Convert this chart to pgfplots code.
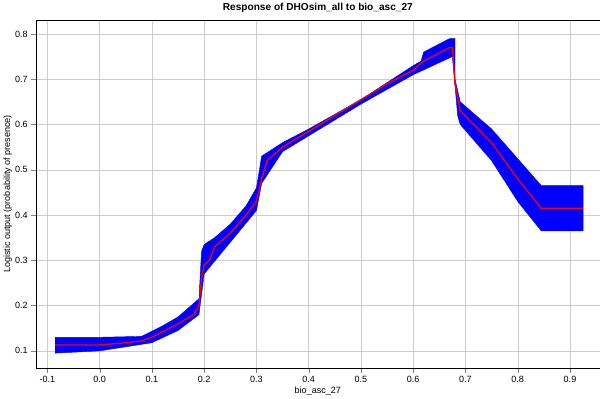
\documentclass[border=0pt]{standalone}
\usepackage{pgfplots}
\pgfplotsset{compat=1.18}
\usepackage{fontspec}
\setmainfont{Liberation Sans}
\begin{document}
\begin{tikzpicture}
\begin{axis}[
  scale only axis, width=528bp, height=326bp,
  xmin=-0.122, xmax=0.957, ymin=0.062, ymax=0.831,
  xtick={-0.1,0,0.1,0.2,0.3,0.4,0.5,0.6,0.7,0.8,0.9},
  xticklabels={-0.1,0.0,0.1,0.2,0.3,0.4,0.5,0.6,0.7,0.8,0.9},
  ytick={0.1,0.2,0.3,0.4,0.5,0.6,0.7,0.8},
  yticklabels={0.1,0.2,0.3,0.4,0.5,0.6,0.7,0.8},
  grid=major, grid style={gray!40},
  tick label style={font=\fontsize{8.5}{10}\selectfont},
  label style={font=\fontsize{8.5}{10}\selectfont},
  title style={font=\fontsize{9.5}{11}\selectfont\bfseries, yshift=-3pt},
  ylabel style={yshift=-4pt},
  xlabel style={yshift=3pt},
  title={Response of DHOsim\_all to bio\_asc\_27},
  xlabel={bio\_asc\_27}, ylabel={Logistic output (probability of presence)},
  tick align=outside, tick pos=left,
]
\addplot[fill=blue, draw=blue] coordinates {
(-0.085,0.13) (0.0,0.13) (0.08,0.132) (0.12,0.155) (0.15,0.175) (0.19,0.215) (0.195,0.32) (0.2,0.335) (0.22,0.35) (0.25,0.38) (0.28,0.42) (0.3,0.46) (0.31,0.53) (0.35,0.56) (0.4,0.59) (0.5,0.655) (0.6,0.73) (0.615,0.74) (0.62,0.76) (0.67,0.79) (0.68,0.79) (0.68,0.70) (0.69,0.65) (0.75,0.59) (0.845,0.465) (0.925,0.465)
(0.925,0.365) (0.845,0.365) (0.8,0.43) (0.75,0.52) (0.69,0.60) (0.685,0.62) (0.675,0.75) (0.6,0.71) (0.5,0.645) (0.4,0.575) (0.35,0.54) (0.31,0.47) (0.3,0.41) (0.25,0.34) (0.2,0.27) (0.19,0.18) (0.15,0.145) (0.1,0.118) (0.0,0.1) (-0.085,0.095)
} -- cycle;
\addplot[red, line width=1.2pt] coordinates {
(-0.085,0.113) (0.0,0.113) (0.05,0.118) (0.08,0.122) (0.1,0.13) (0.15,0.16) (0.18,0.18) (0.19,0.2) (0.195,0.26) (0.2,0.29) (0.21,0.30) (0.22,0.33) (0.25,0.36) (0.28,0.40) (0.30,0.43) (0.31,0.48) (0.32,0.52) (0.35,0.55) (0.40,0.585) (0.45,0.62) (0.5,0.655) (0.55,0.69) (0.6,0.72) (0.62,0.74) (0.67,0.77) (0.675,0.77) (0.68,0.69) (0.69,0.63) (0.75,0.56) (0.8,0.48) (0.845,0.415) (0.925,0.415)
};
\end{axis}
\end{tikzpicture}
\end{document}
